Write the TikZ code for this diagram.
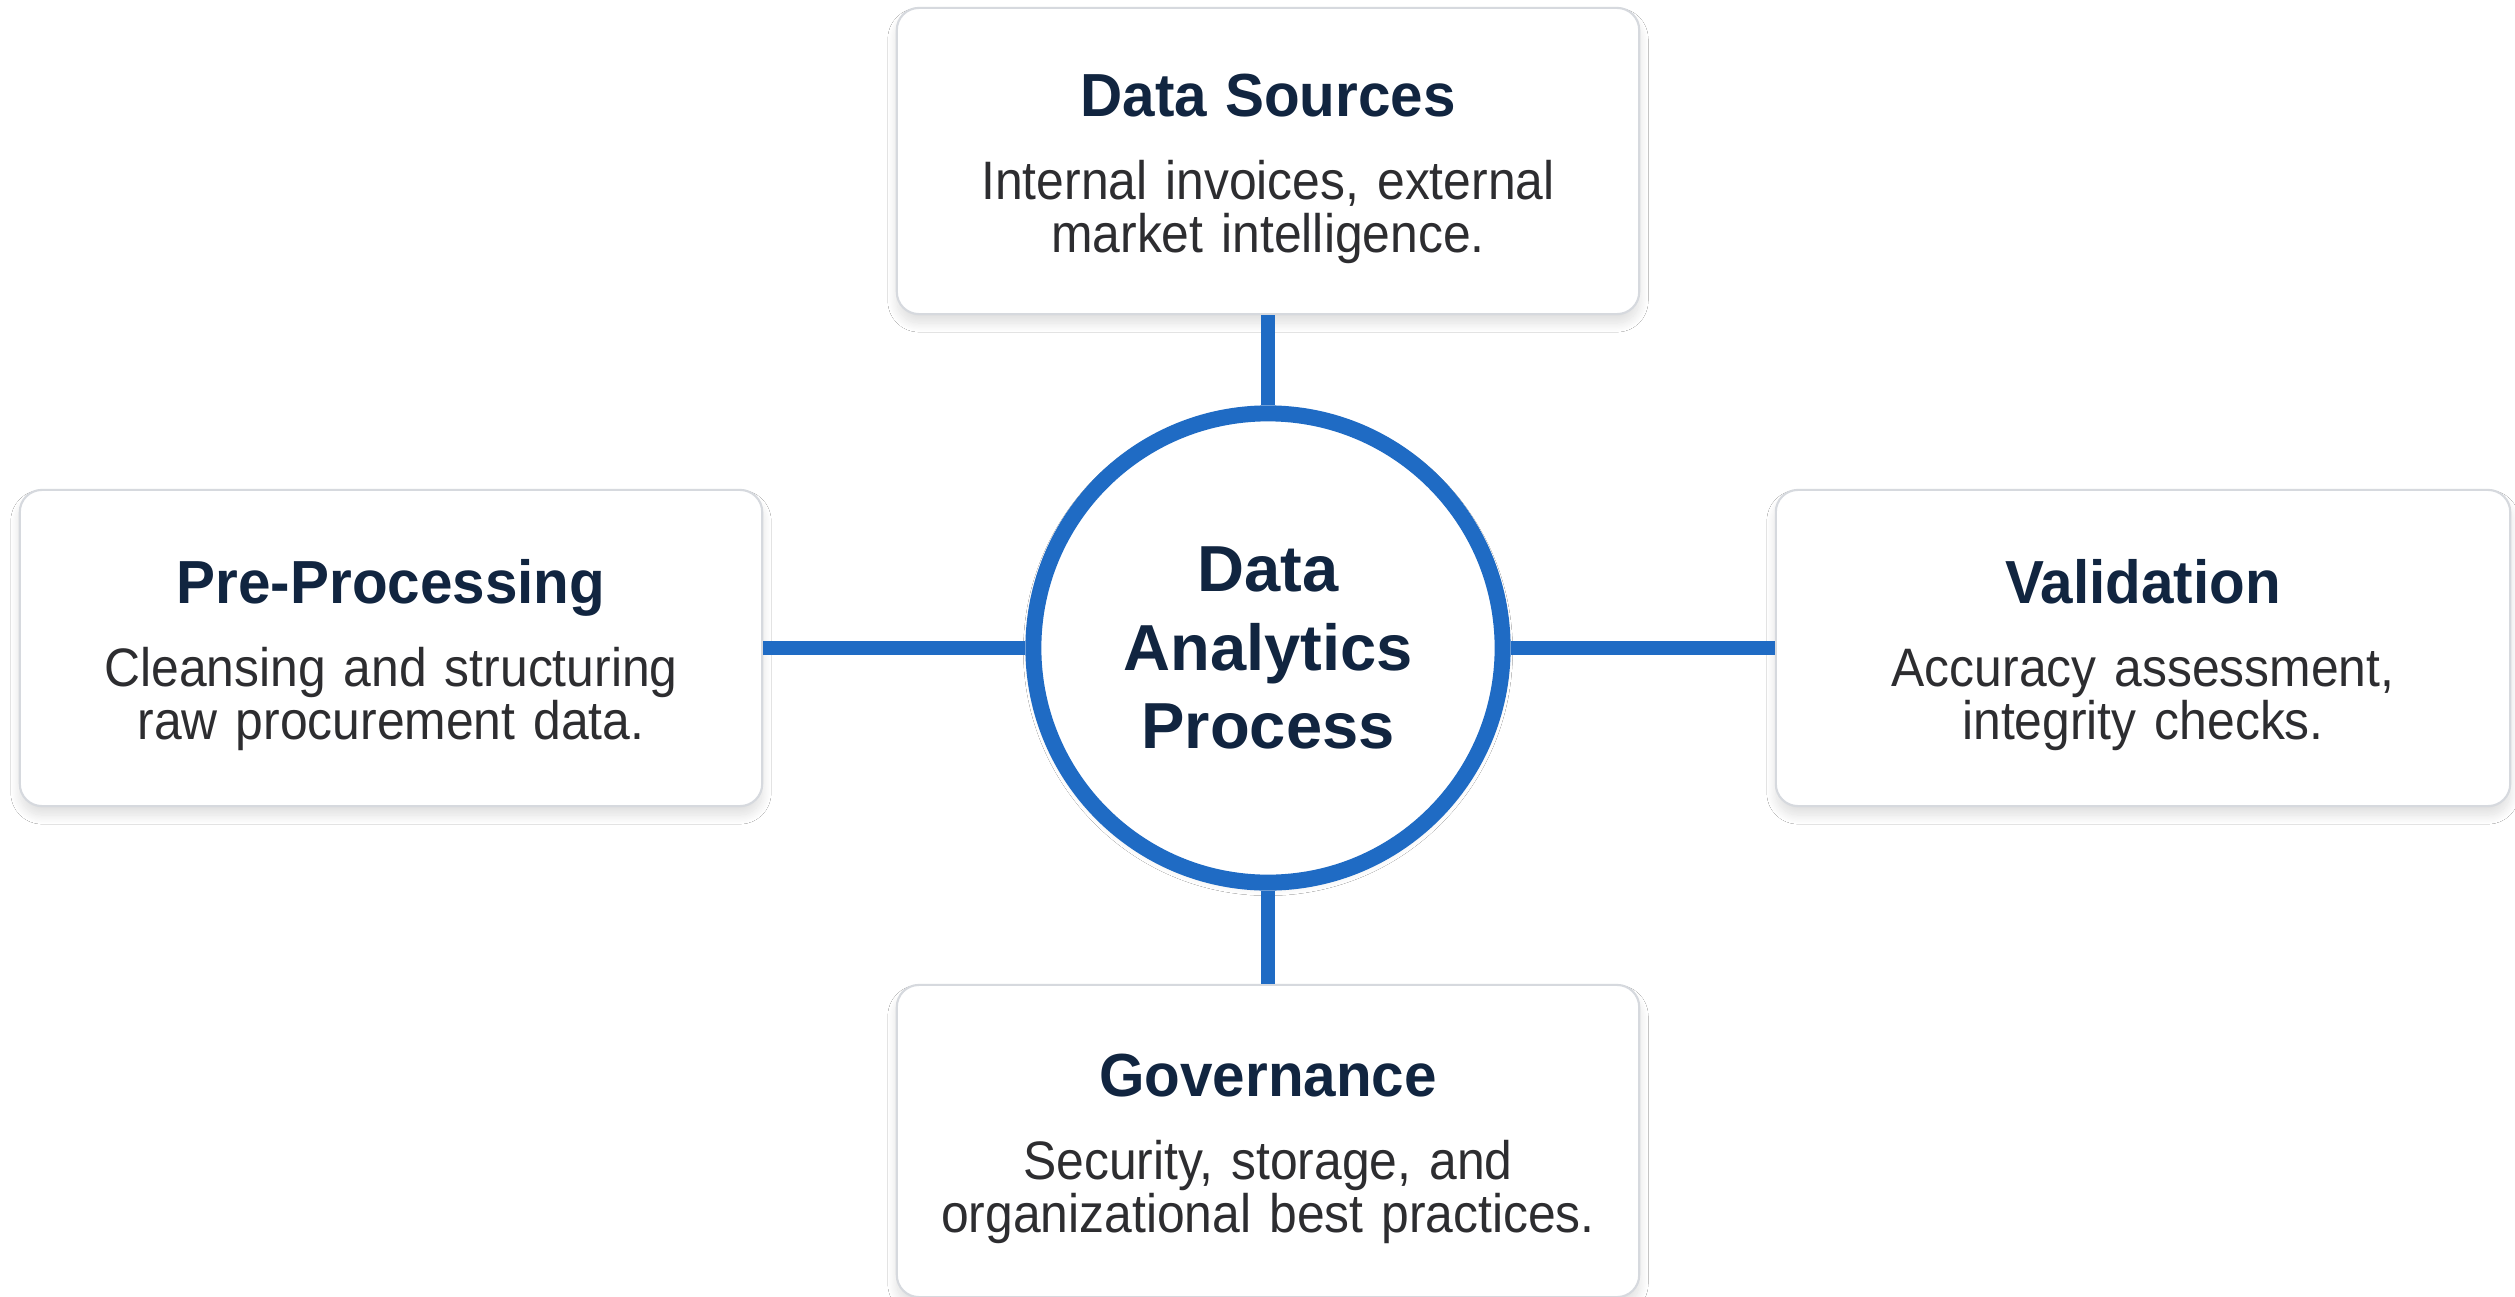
\documentclass[tikz,border=0pt]{standalone}
\usepackage{fontspec}
\setmainfont{Liberation Sans}
\newfontfamily\bodyface[FakeStretch=0.92]{Liberation Sans}
\newfontfamily\titleface[FakeStretch=0.96]{Liberation Sans}
\usetikzlibrary{shadows.blur}

\definecolor{ringblue}{RGB}{31,107,196}
\definecolor{titlenavy}{RGB}{17,37,64}
\definecolor{bodygray}{RGB}{45,45,48}
\definecolor{cardline}{RGB}{214,217,222}

\newcommand{\cardtitle}{\titleface\fontsize{17.3pt}{20pt}\selectfont\bfseries\color{titlenavy}}
\newcommand{\cardbody}{\bodyface\fontsize{15.4pt}{15.1pt}\selectfont}
\newcommand{\hubfont}{\fontsize{18.5pt}{22.3pt}\selectfont\bfseries}

\tikzset{
  card/.style={draw=cardline, line width=0.6pt, fill=white, rounded corners=6.3pt,
    minimum width=7.42cm, minimum height=3.12cm, inner sep=0pt,
    text width=7cm, align=center, text height=16.6pt, font=\cardbody, text=bodygray,
    blur shadow={shadow xshift=0cm, shadow yshift=-0.09cm, shadow blur radius=0.09cm,
      shadow blur steps=16, shadow opacity=13}},
  hub/.style={circle, draw=ringblue, line width=4.55pt, fill=white, minimum size=4.69cm,
    inner sep=0pt, align=center, font=\hubfont, text=titlenavy,
    blur shadow={shadow xshift=0cm, shadow yshift=-0.03cm, shadow blur radius=0.1cm,
      shadow blur steps=16, shadow opacity=14}},
  link/.style={draw=ringblue, line width=4pt}
}

\begin{document}
\begin{tikzpicture}[x=0.01cm, y=-0.01cm]
%canvas
\useasboundingbox (0,0) rectangle (2515,1297);
\fill[white] (0,0) rectangle (2515,1297);

%hub
\node[hub] (hub) at (1268,648) {Data\\Analytics\\Process};

%cards
\node[card, minimum height=3.06cm] (src) at (1268,161)
  {{\cardtitle Data Sources}\\[8.5pt]Internal invoices, external\\market intelligence.};
\node[card, minimum height=3.16cm] (pre) at (391,648)
  {{\cardtitle Pre-Processing}\\[8.5pt]Cleansing and structuring\\raw procurement data.};
\node[card, minimum width=7.34cm, minimum height=3.16cm] (val) at (2143,648)
  {{\cardtitle Validation}\\[8.5pt]Accuracy assessment,\\integrity checks.};
\node[card] (gov) at (1268,1141)
  {{\cardtitle Governance}\\[8.5pt]Security, storage, and\\organizational best practices.};

%links
\draw[link] (src) -- (hub);
\draw[link] (hub) -- (gov);
\draw[link] (pre) -- (hub);
\draw[link] (hub) -- (val);
\end{tikzpicture}
\end{document}
